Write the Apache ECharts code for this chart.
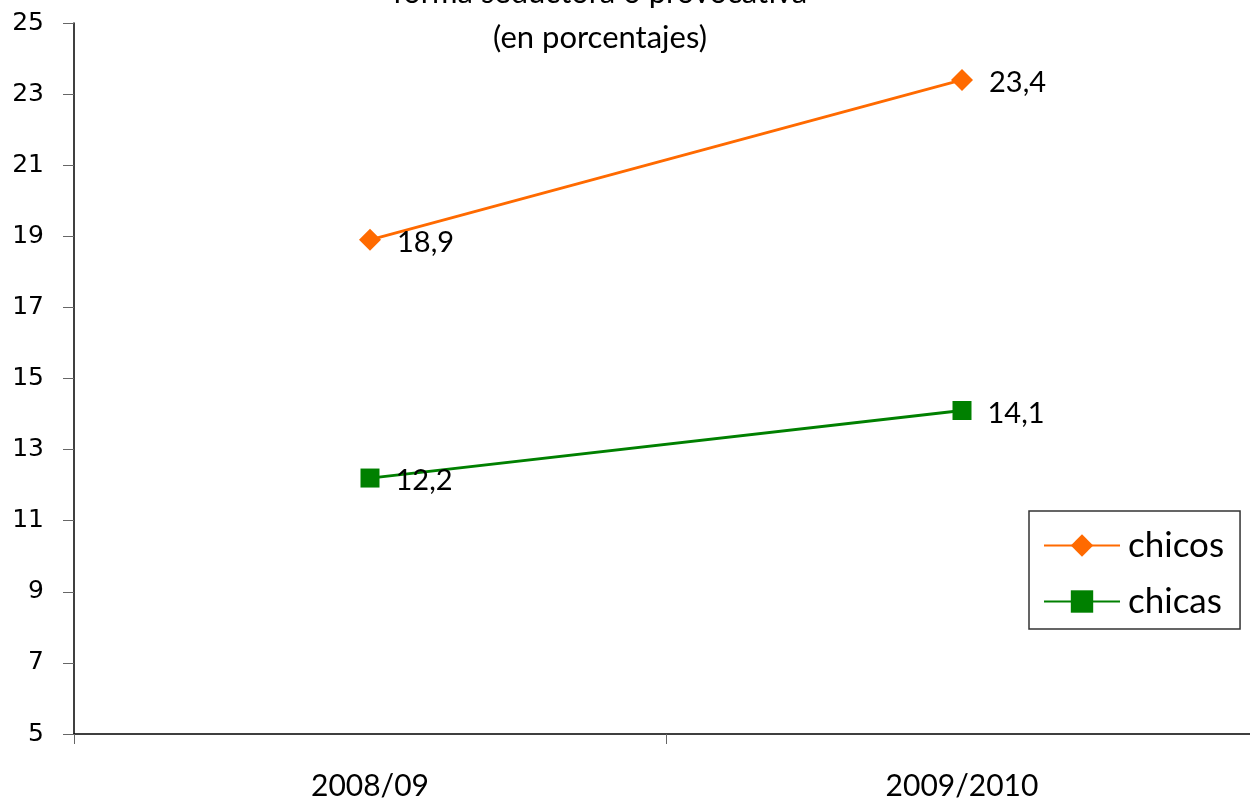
<!DOCTYPE html>
<html><head><meta charset="utf-8">
<script src="https://cdn.jsdelivr.net/npm/echarts@6/dist/echarts.min.js"></script>
<style>html,body{margin:0;padding:0;background:#fff}#c{width:1250px;height:802px}</style>
</head><body><div id="c"></div>
<script>
const categories = ['2008/09', '2009/2010'];
const chicos = [18.9, 23.4];
const chicas = [12.2, 14.1];
const yTicks = [5, 7, 9, 11, 13, 15, 17, 19, 21, 23, 25];

const chart = echarts.init(document.getElementById('c'));
const lblFmt = p => String(p.value).replace('.', ',');
chart.setOption({
  animation: false,
  backgroundColor: '#fff',
  title: {
    text: 'forma seductora o provocativa\n(en porcentajes)',
    left: 595, textAlign: 'center', top: -35,
    textStyle: { fontFamily: 'Lato', fontSize: 31, fontWeight: 'normal', color: '#000', lineHeight: 45 }
  },
  legend: {
    orient: 'vertical', left: 1029, top: 511,
    padding: [17, 16, 10, 14],
    borderColor: '#333', borderWidth: 1.5, borderRadius: 0,
    itemWidth: 76, itemHeight: 28, itemGap: 21,
    textStyle: { fontFamily: 'Lato', fontSize: 35, color: '#000', padding: [0, 0, 0, 3] },
    data: ['chicos', 'chicas']
  },
  grid: { left: 74, width: 1184, top: 23, bottom: 68, containLabel: false, outerBoundsMode: 'none' },
  xAxis: {
    type: 'category', data: categories, boundaryGap: true,
    axisLine: { lineStyle: { color: '#000', width: 1.5 } },
    axisTick: { show: true, length: 10, lineStyle: { color: '#666' } },
    axisLabel: { fontFamily: 'Lato', fontSize: 30, color: '#000', margin: 37 }
  },
  yAxis: {
    type: 'value', min: 5, max: 25, interval: 2,
    splitLine: { show: false },
    axisLine: { show: true, lineStyle: { color: '#000', width: 1.5 } },
    axisTick: { show: true, length: 11, lineStyle: { color: '#666' } },
    axisLabel: { fontFamily: 'DejaVu Sans', fontSize: 25, color: '#000', margin: 30,
      formatter: v => yTicks.includes(v) ? String(v) : '' }
  },
  series: [
    { name: 'chicos', type: 'line', data: chicos, symbol: 'diamond', symbolSize: 22,
      itemStyle: { color: '#FF6A00' }, lineStyle: { color: '#FF6A00', width: 2.8 },
      label: { show: true, position: 'right', distance: 16, formatter: lblFmt,
        fontFamily: 'Lato', fontSize: 29, color: '#000', offset: [0, 3] } },
    { name: 'chicas', type: 'line', data: chicas, symbol: 'rect', symbolSize: 19,
      itemStyle: { color: '#008000' }, lineStyle: { color: '#008000', width: 2.8 },
      label: { show: true, position: 'right', distance: 16, formatter: lblFmt,
        fontFamily: 'Lato', fontSize: 29, color: '#000', offset: [0, 3] } }
  ]
});
</script></body></html>
